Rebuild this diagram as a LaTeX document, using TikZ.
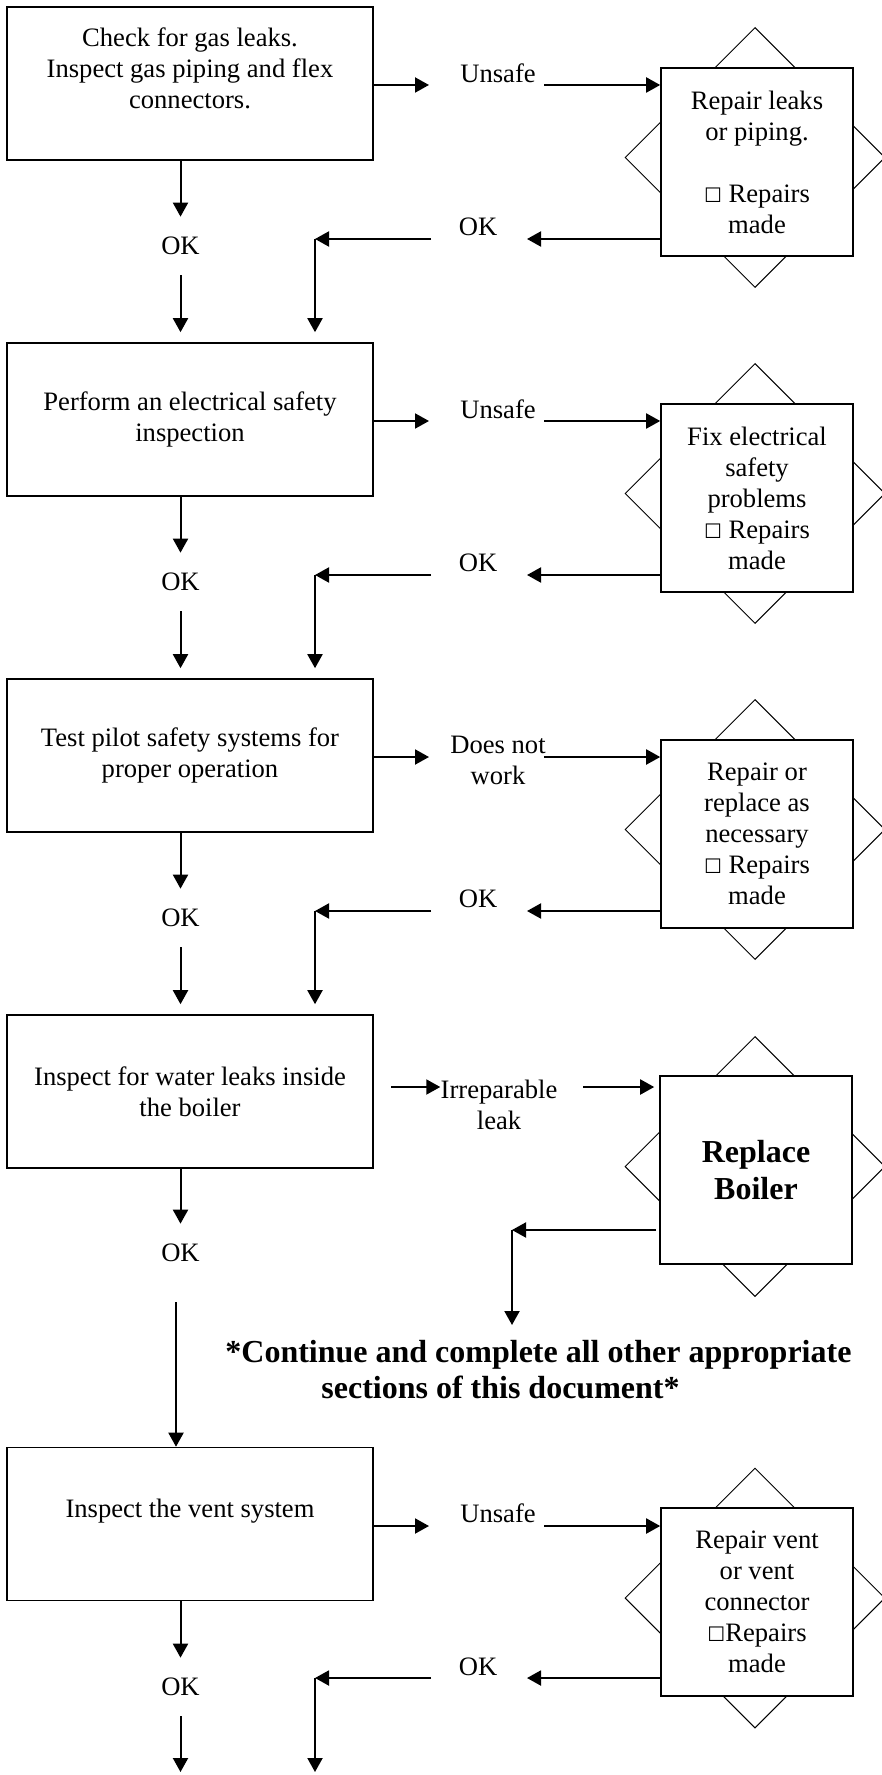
\documentclass[tikz,border=0pt]{standalone}
\usepackage{fontspec}
\setmainfont{Liberation Serif}
\newfontfamily\symfont{DejaVu Sans}
\usetikzlibrary{shapes.geometric,arrows.meta}
\newcommand{\boxmark}{{\symfont\fontsize{10}{10}\selectfont ☐}}

\begin{document}
\begin{tikzpicture}[x=0.5pt, y=-0.5pt,
	every node/.style={font=\fontsize{13.3}{15.5}\selectfont, align=center},
	stepbox/.style={draw, line width=0.8pt, minimum width=183pt, minimum height=76.5pt, inner sep=0pt},
	fixbox/.style={draw, fill=white, line width=0.8pt, minimum width=96pt, minimum height=94pt, inner sep=0pt},
	starback/.style={diamond, draw, fill=white, line width=0.5pt, minimum width=130pt, minimum height=130pt, inner sep=0pt},
	arr/.style={line width=1pt, -{Triangle[length=7pt, width=7.5pt]}},
	lbl/.style={inner sep=0pt},
	oklbl/.style={inner xsep=0pt, inner ysep=10pt}]

\fill[white] (0,0) rectangle (882,1775);
\useasboundingbox (0,0) rectangle (882,1775);

% gas leaks
\node[stepbox] (gas) at (190,83.5) {Check for gas leaks.\\Inspect gas piping and flex\\connectors.\\\mbox{}};
\node[starback] (gasstar) at (755,157.5) {};
\node[fixbox] (fixgas) at (757,162) {Repair leaks\\or piping.\\\mbox{}\\\boxmark\ Repairs\\made};
\node[lbl] (unsafe1) at (498,73) {Unsafe};
\node[lbl] (gasok) at (478,227) {OK};
\node[oklbl] (gasdown) at (180.5,246) {OK};
\coordinate (gasR) at (429,85); \coordinate (gasU) at (544,85);
\coordinate (gasB) at (527,239); \coordinate (gasE) at (431,239); \coordinate (gasC) at (315,239);
\draw[arr] (gas.east |- gasR) -- (gasR);
\draw[arr] (gasU) -- (fixgas.west |- gasU);
\draw[arr] (fixgas.west |- gasB) -- (gasB);
\draw[arr] (gasE) -- (gasC);
\draw[arr] (gas.south -| gasdown) -- (gasdown.north);

% electrical
\node[stepbox] (elec) at (190,419.5) {Perform an electrical safety\\inspection};
\node[starback] (elecstar) at (755,493.5) {};
\node[fixbox] (fixelec) at (757,498) {Fix electrical\\safety\\problems\\\boxmark\ Repairs\\made};
\node[lbl] (unsafe2) at (498,409) {Unsafe};
\node[lbl] (elecok) at (478,563) {OK};
\node[oklbl] (elecdown) at (180.5,582) {OK};
\coordinate (elecR) at (429,421); \coordinate (elecU) at (544,421);
\coordinate (elecB) at (527,575); \coordinate (elecE) at (431,575); \coordinate (elecC) at (315,575);
\draw[arr] (gasdown.south) -- ([yshift=5pt]elec.north -| gasdown);
\draw[arr] (gasC) -- ([yshift=5pt]elec.north -| gasC);
\draw[arr] (elec.east |- elecR) -- (elecR);
\draw[arr] (elecU) -- (fixelec.west |- elecU);
\draw[arr] (fixelec.west |- elecB) -- (elecB);
\draw[arr] (elecE) -- (elecC);
\draw[arr] (elec.south -| elecdown) -- (elecdown.north);

% pilot
\node[stepbox] (pilot) at (190,755.5) {Test pilot safety systems for\\proper operation};
\node[starback] (pilotstar) at (755,829.5) {};
\node[fixbox] (fixpilot) at (757,834) {Repair or\\replace as\\necessary\\\boxmark\ Repairs\\made};
\node[lbl] (notwork) at (498,760) {Does not\\work};
\node[lbl] (pilotok) at (478,899) {OK};
\node[oklbl] (pilotdown) at (180.5,918) {OK};
\coordinate (pilotR) at (429,757); \coordinate (pilotU) at (544,757);
\coordinate (pilotB) at (527,911); \coordinate (pilotE) at (431,911); \coordinate (pilotC) at (315,911);
\draw[arr] (elecdown.south) -- ([yshift=5pt]pilot.north -| elecdown);
\draw[arr] (elecC) -- ([yshift=5pt]pilot.north -| elecC);
\draw[arr] (pilot.east |- pilotR) -- (pilotR);
\draw[arr] (pilotU) -- (fixpilot.west |- pilotU);
\draw[arr] (fixpilot.west |- pilotB) -- (pilotB);
\draw[arr] (pilotE) -- (pilotC);
\draw[arr] (pilot.south -| pilotdown) -- (pilotdown.north);

% water leaks
\node[stepbox] (water) at (190,1091.5) {Inspect for water leaks inside\\the boiler};
\node[starback] (waterstar) at (755,1166.5) {};
\node[fixbox, font=\fontsize{16}{18.5}\selectfont\bfseries] (replace) at (756,1170) {Replace\\Boiler};
\node[lbl] (leak) at (499,1104.5) {Irreparable\\leak};
\node[oklbl] (waterdown) at (180.5,1253) {OK};
\node[lbl, anchor=west, align=left, font=\fontsize{16}{18}\selectfont\bfseries] (note) at (225,1370)
	{*Continue and complete all other appropriate\\\hspace*{48pt}sections of this document*};
\coordinate (waterA) at (391,1087); \coordinate (waterM) at (583,1087);
\coordinate (waterB) at (512,1230); \coordinate (waterD) at (512,1325); \coordinate (waterS) at (176,1302);
\draw[arr] (pilotdown.south) -- ([yshift=5pt]water.north -| pilotdown);
\draw[arr] (pilotC) -- ([yshift=5pt]water.north -| pilotC);
\draw[arr] (waterA) -- (leak.west |- waterA);
\draw[arr] (waterM) -- ([xshift=-2.5pt]replace.west |- waterM);
\draw[arr] ([xshift=-1.5pt]replace.west |- waterB) -- (waterB);
\draw[arr] (waterB) -- (waterD);
\draw[arr] (water.south -| waterdown) -- (waterdown.north);

% vent
\node[stepbox] (vent) at (190,1524) {Inspect the vent system\\\mbox{}};
\node[starback] (ventstar) at (755,1598) {};
\node[fixbox] (fixvent) at (757,1602) {Repair vent\\or vent\\connector\\\boxmark{}Repairs\\made};
\node[lbl] (unsafe3) at (498,1513) {Unsafe};
\node[lbl] (ventok) at (478,1667) {OK};
\node[oklbl] (ventdown) at (180.5,1687) {OK};
\coordinate (ventR) at (429,1526); \coordinate (ventU) at (544,1526);
\coordinate (ventB) at (527,1678); \coordinate (ventE) at (431,1678); \coordinate (ventC) at (315,1678);
\coordinate (ventend) at (180.5,1772); \coordinate (ventend2) at (315,1772);
\draw[arr] (waterS) -- (vent.north -| waterS);
\draw[arr] (vent.east |- ventR) -- (ventR);
\draw[arr] (ventU) -- (fixvent.west |- ventU);
\draw[arr] (fixvent.west |- ventB) -- (ventB);
\draw[arr] (ventE) -- (ventC);
\draw[arr] (vent.south -| ventdown) -- (ventdown.north);
\draw[arr] (ventdown.south) -- (ventend);
\draw[arr] (ventC) -- (ventend2);
\end{tikzpicture}
\end{document}
